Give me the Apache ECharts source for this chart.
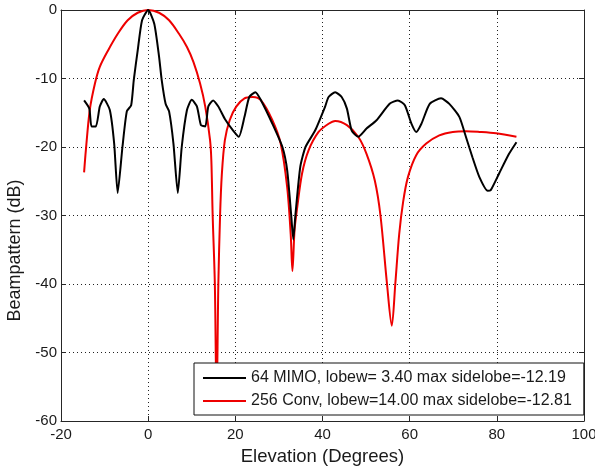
<!DOCTYPE html>
<html><head><meta charset="utf-8">
<script src="https://cdn.jsdelivr.net/npm/echarts@6/dist/echarts.min.js"></script>
<style>html,body{margin:0;padding:0;background:#fff}#c{width:595px;height:472px}</style>
</head><body><div id="c"></div>
<script>
const xTicks = [-20, 0, 20, 40, 60, 80, 100];
const yTicks = [-60, -50, -40, -30, -20, -10, 0];
const seriesNames = ['64 MIMO, lobew= 3.40 max sidelobe=-12.19', '256 Conv, lobew=14.00 max sidelobe=-12.81'];

const mimoX = [-14.7,-13.5,-13.0,-12.0,-11.1,-10.2,-8.8,-7.8,-7.0,-5.9,-4.9,-3.9,-3.3,-2.4,-1.4,0,1.4,2.5,3.1,4.0,4.8,5.8,6.8,7.7,8.9,10.0,11.2,12.1,13.1,13.8,14.9,16.1,17.6,19.5,20.8,22.1,23.2,24.6,25.9,28.5,30.8,31.9,32.8,33.3,33.8,34.9,36.1,38.3,40.6,41.4,42.9,44.4,45.6,46.7,48.2,50.1,52.4,55.4,57.3,58.9,60.4,61.5,62.7,64.6,67.2,69.1,71.4,72.9,74.4,76.0,77.9,78.6,80.5,82.8,84.5];
const mimoY = [-13.2,-14.4,-17.0,-17.0,-14.1,-13.0,-14.6,-19.5,-26.7,-20.0,-14.8,-13.9,-10.2,-5.9,-1.5,0,-2.0,-6.8,-10.2,-13.7,-14.8,-19.5,-26.7,-20.0,-14.6,-13.1,-14.1,-16.8,-17.0,-14.1,-13.2,-14.1,-15.9,-17.6,-18.5,-15.6,-12.7,-12.0,-13.2,-16.6,-20.0,-23.4,-29.8,-33.5,-29.8,-22.9,-20.0,-17.6,-14.1,-12.7,-12.0,-12.7,-14.4,-17.6,-18.5,-17.3,-16.1,-13.7,-13.2,-13.9,-16.6,-17.8,-16.6,-13.7,-12.9,-13.7,-15.6,-18.5,-21.5,-24.4,-26.4,-26.3,-23.9,-21.0,-19.3];

const convX = [-14.7,-14.3,-13.4,-12.2,-11.1,-9.2,-6.9,-4.7,-2.4,0,2.5,4.8,7.0,8.9,10.4,11.9,13.1,14.2,14.5,14.8,15.3,15.7,16.1,16.5,16.9,17.6,18.7,20.2,22.1,24.0,25.9,28.5,30.4,31.9,32.7,33.1,33.6,34.2,35.3,36.8,39.1,41.4,42.9,45.6,48.2,50.1,52.0,53.3,54.8,55.9,56.7,57.6,58.5,59.6,61.5,63.8,66.8,69.9,72.9,76.0,79.8,84.5];
const convY = [-23.7,-20.5,-14.6,-10.7,-8.3,-5.9,-3.4,-1.5,-0.4,0,-0.4,-1.5,-3.4,-5.4,-7.6,-10.7,-14.1,-19.0,-22.0,-30.0,-40.0,-58.0,-40.0,-30.0,-24.0,-19.0,-16.1,-14.1,-12.9,-12.7,-13.2,-16.1,-19.5,-25.9,-32.7,-38.1,-32.0,-28.8,-23.9,-20.5,-17.8,-16.6,-16.2,-16.8,-18.5,-21.0,-24.9,-30.0,-40.0,-46.1,-40.0,-32.7,-28.0,-24.4,-21.2,-19.5,-18.3,-17.8,-17.7,-17.8,-18.0,-18.5];

const pair = (xs, ys) => xs.map((x, i) => [x, ys[i]]);
const FONT = 'Liberation Sans, Arial, sans-serif';
const axisCol = '#262626';

const chart = echarts.init(document.getElementById('c'), null, {renderer: 'canvas'});
const baseX = {
  type: 'value', min: xTicks[0], max: xTicks[xTicks.length - 1], interval: 20,
  axisLine: {show: true, onZero: false, lineStyle: {color: axisCol, width: 1}},
  axisTick: {show: true, inside: true, length: 5, lineStyle: {color: axisCol}},
};
const baseY = {
  type: 'value', min: yTicks[0], max: yTicks[yTicks.length - 1], interval: 10,
  axisLine: {show: true, onZero: false, lineStyle: {color: axisCol, width: 1}},
  axisTick: {show: true, inside: true, length: 5, lineStyle: {color: axisCol}},
};
chart.setOption({
  animation: false,
  backgroundColor: '#ffffff',
  grid: {left: 61, right: 11, top: 10, bottom: 51, containLabel: false, outerBoundsMode: 'none'},
  xAxis: [
    Object.assign({}, baseX, {
      position: 'bottom',
      name: 'Elevation (Degrees)', nameLocation: 'middle', nameGap: 26,
      nameTextStyle: {fontFamily: FONT, fontSize: 18.5, color: '#1a1a1a'},
      axisLabel: {fontFamily: FONT, fontSize: 15, color: '#1a1a1a', margin: 6},
      splitLine: {show: true, lineStyle: {color: '#222', type: [1, 3], width: 1}}
    }),
    Object.assign({}, baseX, {position: 'top', axisLabel: {show: false}, splitLine: {show: false}})
  ],
  yAxis: [
    Object.assign({}, baseY, {
      position: 'left',
      name: 'Beampattern (dB)', nameLocation: 'middle', nameGap: 33, nameRotate: 90,
      nameTextStyle: {fontFamily: FONT, fontSize: 18, color: '#1a1a1a', padding: [0, 70, 0, 0]},
      axisLabel: {fontFamily: FONT, fontSize: 15, color: '#1a1a1a', margin: 4},
      splitLine: {show: true, lineStyle: {color: '#222', type: [1, 3], width: 1}}
    }),
    Object.assign({}, baseY, {position: 'right', axisLabel: {show: false}, splitLine: {show: false}})
  ],
  legend: {
    left: 194, top: 363, orient: 'vertical',
    backgroundColor: '#ffffff', borderColor: '#111', borderWidth: 1, borderRadius: 0,
    padding: [7, 12, 6, 9], itemGap: 7, itemWidth: 43, itemHeight: 16,
    icon: 'path://M0,7 L43,7 L43,9 L0,9 Z',
    textStyle: {fontFamily: FONT, fontSize: 16, color: '#1a1a1a'},
    data: seriesNames
  },
  series: [
    {name: seriesNames[0], type: 'line', data: pair(mimoX, mimoY), showSymbol: false, smooth: 0.2,
     lineStyle: {color: '#000000', width: 2}, itemStyle: {color: '#000000'}, z: 3},
    {name: seriesNames[1], type: 'line', data: pair(convX, convY), showSymbol: false, smooth: 0.3,
     lineStyle: {color: '#ee0000', width: 2}, itemStyle: {color: '#ee0000'}, z: 2}
  ]
});
</script></body></html>
